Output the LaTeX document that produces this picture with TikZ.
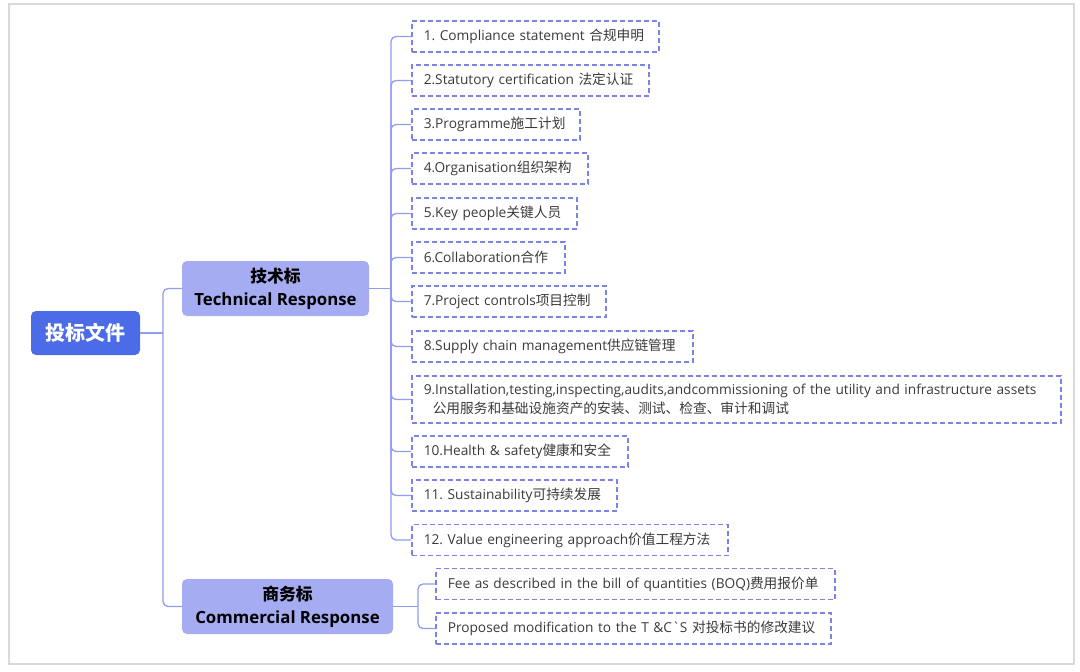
\documentclass[tikz,border=0pt]{standalone}
\usepackage{fontspec}
\setmainfont{Open Sans}
\newfontfamily\cjk{Noto Sans CJK SC}
\newcommand{\zh}[1]{{\cjk #1}}
\frenchspacing
\definecolor{rootblue}{HTML}{4B6CE6}
\definecolor{branchblue}{HTML}{A5ACF2}
\definecolor{leafline}{HTML}{7C82E6}
\definecolor{leaftext}{HTML}{3A3A3A}
\definecolor{linkblue}{HTML}{8F9CF0}
\definecolor{framegray}{HTML}{D9D9D9}
\begin{document}
\begin{tikzpicture}[x=1pt,y=-1pt,
    root/.style={fill=rootblue,text=white,rounded corners=5pt,minimum width=109pt,minimum height=44pt,font=\cjk\bfseries\fontsize{20}{24}\selectfont},
    branch/.style={fill=branchblue,rounded corners=5pt,minimum height=55pt,inner xsep=0pt,align=center,font=\bfseries\fontsize{16.8}{23}\selectfont},
    leaf/.style={draw=leafline,dash pattern=on 5pt off 3pt,line width=1.5pt,anchor=west,text width=#1,minimum height=31pt,inner xsep=12pt,inner ysep=5pt,align=left,text=leaftext,font=\fontsize{13.7}{19}\selectfont},
    link/.style={draw=linkblue,line width=1.3pt,rounded corners=5pt}]
    \useasboundingbox (0,0) rectangle (1080,672);
    \draw[framegray,line width=2pt] (9,4) rectangle (1074,664);
    \node[root] (doc) at (85.5,333) {投标文件};
    \node[branch,minimum width=187pt] (tech) at (275.5,288.5) {\zh{技术标}\\Technical Response};
    \node[branch,minimum width=211pt] (comm) at (287.5,606.5) {\zh{商务标}\\Commercial Response};
    \node[leaf=223pt] (t1) at (411,36.5) {1. Compliance statement \zh{合规申明}};
    \node[leaf=213pt] (t2) at (411,80.5) {2.Statutory certification \zh{法定认证}};
    \node[leaf=144pt] (t3) at (411,124.5) {3.Programme\zh{施工计划}};
    \node[leaf=152pt] (t4) at (411,168.5) {4.Organisation\zh{组织架构}};
    \node[leaf=141pt] (t5) at (411,213.5) {5.Key people\zh{关键人员}};
    \node[leaf=129pt] (t6) at (411,257.5) {6.Collaboration\zh{合作}};
    \node[leaf=170pt] (t7) at (411,301.5) {7.Project controls\zh{项目控制}};
    \node[leaf=257pt] (t8) at (411,346.5) {8.Supply chain management\zh{供应链管理}};
    \node[leaf=625pt,minimum height=47pt] (t9) at (411,399.5) {9.Installation,testing,inspecting,audits,andcommissioning of the utility and infrastructure assets\\\hspace*{9pt}\zh{公用服务和基础设施资产的安装、测试、检查、审计和调试}};
    \node[leaf=192pt] (t10) at (411,451.5) {10.Health \& safety\zh{健康和安全}};
    \node[leaf=181pt] (t11) at (411,495.5) {11. Sustainability\zh{可持续发展}};
    \node[leaf=292pt] (t12) at (411,540) {12. Value engineering approach\zh{价值工程方法}};
    \node[leaf=375pt] (c1) at (435,584) {Fee as described in the bill of quantities (BOQ)\zh{费用报价单}};
    \node[leaf=371pt] (c2) at (435,628.5) {Proposed modification to the T \&C\textasciigrave S \zh{对投标书的修改建议}};
    \coordinate (rj) at (163,333);
    \coordinate (tj) at (391,288.5);
    \coordinate (cj) at (418,606.5);
    \draw[link] (doc.east) -- (rj);
    \draw[link] (rj) |- (tech.west);
    \draw[link] (rj) |- (comm.west);
    \draw[link] (tech.east) -- (tj);
    \foreach \n in {t1,t2,t3,t4,t5,t6,t7,t8,t9,t10,t11,t12}
        \draw[link] (tj) |- (\n.west);
    \draw[link] (comm.east) -- (cj);
    \foreach \n in {c1,c2}
        \draw[link] (cj) |- (\n.west);
\end{tikzpicture}
\end{document}
